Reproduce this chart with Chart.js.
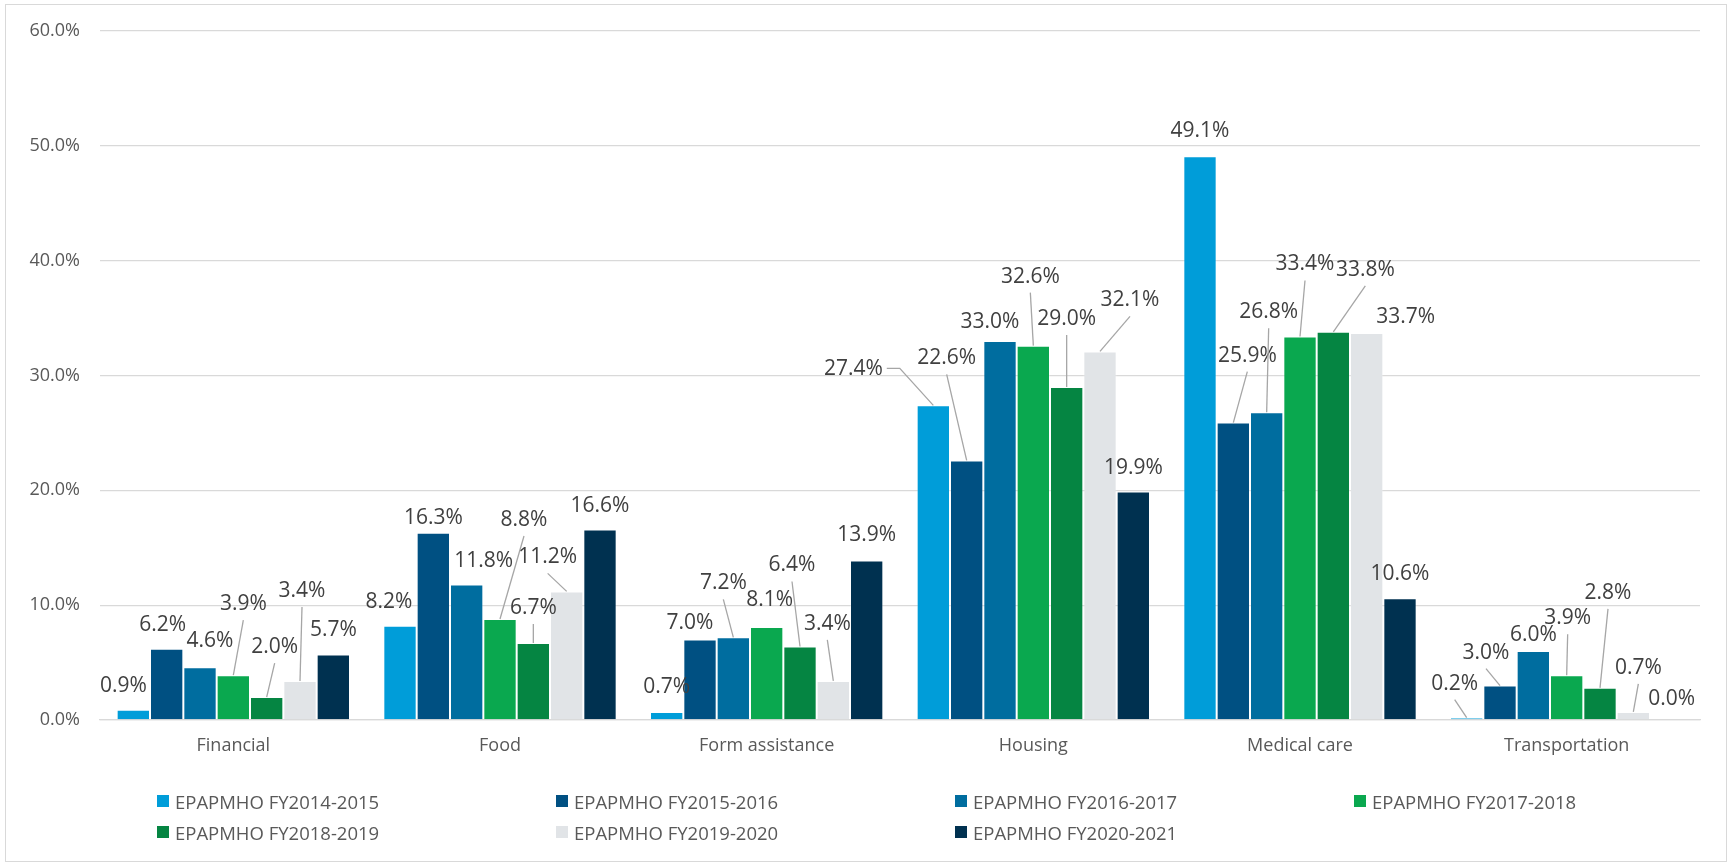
<!DOCTYPE html>
<html>
<head>
<meta charset="utf-8">
<title>EPAPMHO requests by category</title>
<script src="https://cdn.jsdelivr.net/npm/chart.js@4.4.1/dist/chart.umd.min.js"></script>
<style>
  html, body { margin: 0; padding: 0; background: #fff; }
  #wrap { position: relative; width: 1732px; height: 866px; overflow: hidden; }
  #frame {
    position: absolute; left: 5px; top: 4px; width: 1722px; height: 858px;
    border: 1.5px solid #d9d9d9; box-sizing: border-box;
  }
  #chart { position: absolute; left: 0; top: 0; }
  .legend-item {
    position: absolute; height: 24px; line-height: 24px;
    font: 18.5px "Open Sans", sans-serif; color: #595959; white-space: nowrap;
  }
  .legend-item span.box {
    position: absolute; left: 0; top: 6px; width: 12px; height: 12px;
  }
  .legend-item span.txt { position: absolute; left: 18px; top: 0; }
</style>
</head>
<body>
<div id="wrap">
  <div id="frame"></div>
  <canvas id="chart" width="1732" height="866"></canvas>
  <div id="legend"></div>
</div>
<script>
// Categories and series (values in percent)
const categories = ["Financial", "Food", "Form assistance", "Housing", "Medical care", "Transportation"];
const seriesNames = [
  "EPAPMHO FY2014-2015",
  "EPAPMHO FY2015-2016",
  "EPAPMHO FY2016-2017",
  "EPAPMHO FY2017-2018",
  "EPAPMHO FY2018-2019",
  "EPAPMHO FY2019-2020",
  "EPAPMHO FY2020-2021"
];
const fy2014 = [0.9, 8.2, 0.7, 27.4, 49.1, 0.2];
const fy2015 = [6.2, 16.3, 7.0, 22.6, 25.9, 3.0];
const fy2016 = [4.6, 11.8, 7.2, 33.0, 26.8, 6.0];
const fy2017 = [3.9, 8.8, 8.1, 32.6, 33.4, 3.9];
const fy2018 = [2.0, 6.7, 6.4, 29.0, 33.8, 2.8];
const fy2019 = [3.4, 11.2, 3.4, 32.1, 33.7, 0.7];
const fy2020 = [5.7, 16.6, 13.9, 19.9, 10.6, 0.0];
const seriesValues = [fy2014, fy2015, fy2016, fy2017, fy2018, fy2019, fy2020];

const yTicks = [0, 10, 20, 30, 40, 50, 60];

const seriesColors = ["#009dd9", "#005082", "#006d9f", "#0aa84f", "#058542", "#e1e4e7", "#003150"];

// where each data label sits, relative to the top of its bar (px)
const labelOffsets = [
  [[-10, -25], [-11, -25], [0, -26], [-80, -37], [0, -26], [-12, -35]],
  [[-4, -25], [0, -16], [-10, -18], [-20, -103], [14, -68], [-14, -34]],
  [[10, -27], [17, -24], [-10, -55], [-10, -20], [2, -101], [0, -17]],
  [[10, -72], [24, -100], [3, -28], [-3, -70], [5, -73], [1, -58]],
  [[8, -51], [0, -36], [-8, -82], [0, -69], [32, -63], [8, -96]],
  [[2, -91], [-19, -35], [-6, -58], [30, -52], [39, -17], [5, -45]],
  [[0, -26], [0, -24], [0, -26], [0, -24], [0, -25], [5, -22]]
];

const fmtPct = (v) => v.toFixed(1) + "%";

// Data labels with leader lines (Excel style)
const barLabels = {
  id: "barLabels",
  afterDatasetsDraw(chart) {
    const ctx = chart.ctx;
    ctx.save();
    ctx.font = "21px 'Open Sans', sans-serif";
    ctx.textAlign = "center";
    ctx.textBaseline = "middle";
    chart.data.datasets.forEach((ds, i) => {
      const meta = chart.getDatasetMeta(i);
      meta.data.forEach((bar, j) => {
        const [dx, dy] = labelOffsets[i][j];
        const lx = bar.x + dx;
        const ly = bar.y + dy;
        const text = fmtPct(ds.data[j]);

        if (dy < -30) {
          ctx.strokeStyle = "#a6a6a6";
          ctx.lineWidth = 1.3;
          ctx.beginPath();
          if (Math.abs(dx) > 50) {
            const side = dx < 0 ? 1 : -1;
            const w = ctx.measureText(text).width;
            ctx.moveTo(lx + side * (w / 2 + 4), ly);
            ctx.lineTo(lx + side * (w / 2 + 17), ly);
          } else {
            ctx.moveTo(lx, ly + 17);
          }
          ctx.lineTo(bar.x, bar.y);
          ctx.stroke();
        }

        ctx.fillStyle = "#404040";
        ctx.fillText(text, lx, ly + 1);
      });
    });
    ctx.restore();
  }
};

const buildLegend = () => {
  const legend = document.getElementById("legend");
  seriesNames.forEach((name, i) => {
    const col = i % 4;
    const row = Math.floor(i / 4);
    const item = document.createElement("div");
    item.className = "legend-item";
    item.style.left = 157 + col * 399 + "px";
    item.style.top = 789 + row * 31 + "px";
    item.innerHTML =
      '<span class="box" style="background:' + seriesColors[i] + '"></span>' +
      '<span class="txt">' + name + "</span>";
    legend.appendChild(item);
  });
};

const ctx = document.getElementById("chart").getContext("2d");

new Chart(ctx, {
  type: "bar",
  data: {
    labels: categories,
    datasets: seriesNames.map((name, i) => ({
      label: name,
      data: seriesValues[i],
      backgroundColor: seriesColors[i],
      borderColor: "rgba(255,255,255,0.3)",
      borderWidth: 1,
      categoryPercentage: 0.875,
      barPercentage: 1.0
    }))
  },
  options: {
    responsive: false,
    animation: false,
    layout: {
      padding: { left: 0, right: 32, top: 31, bottom: 106 }
    },
    plugins: {
      legend: { display: false },
      tooltip: { enabled: false }
    },
    scales: {
      x: {
        grid: { display: false, drawTicks: false },
        border: { display: true, color: "#d9d9d9", width: 1.3 },
        ticks: {
          padding: 15,
          color: "#595959",
          font: { family: "'Open Sans', sans-serif", size: 18 }
        },
        afterFit: (scale) => { scale.height = 40; }
      },
      y: {
        min: 0,
        max: 60,
        afterBuildTicks: (scale) => {
          scale.ticks = yTicks.map((v) => ({ value: v }));
        },
        grid: { color: "#d9d9d9", lineWidth: 1.3, drawTicks: false },
        border: { display: false },
        ticks: {
          padding: 20,
          color: "#595959",
          font: { family: "'Open Sans', sans-serif", size: 18 },
          callback: (v) => fmtPct(v)
        },
        afterFit: (scale) => { scale.width = 100; }
      }
    }
  },
  plugins: [barLabels]
});

buildLegend();
</script>
</body>
</html>
